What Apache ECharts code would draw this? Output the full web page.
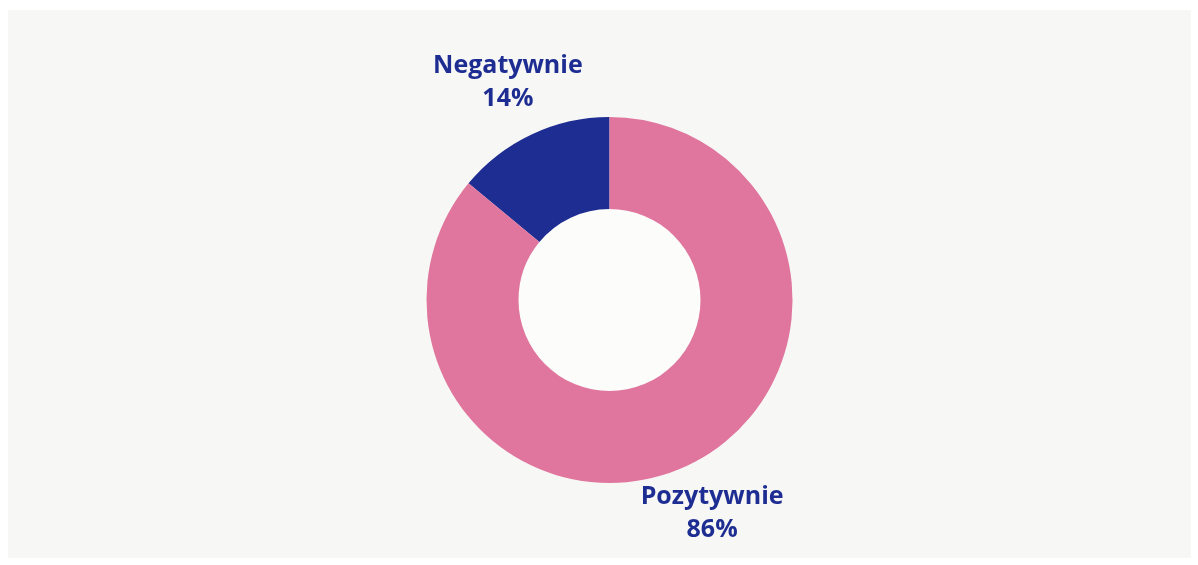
<!DOCTYPE html>
<html>
<head>
<meta charset="utf-8">
<script src="https://cdn.jsdelivr.net/npm/echarts@6/dist/echarts.min.js"></script>
<style>
  html, body { margin: 0; padding: 0; background: #ffffff; }
  #chart { position: absolute; left: 8px; top: 10px; width: 1183px; height: 548px; background: #f7f7f5; }
</style>
</head>
<body>
<div id="chart"></div>
<script>
// dane
var categories = ['Negatywnie', 'Pozytywnie'];
var values = [14, 86];
var colors = ['#1e2d92', '#e0759d'];
var labelOffsets = [[1, 0], [0, -5]];

var chart = echarts.init(document.getElementById('chart'), null, { renderer: 'canvas' });

var pieData = categories.map(function (name, i) {
  return { name: name, value: values[i], itemStyle: { color: colors[i] } };
});

// centrum wykresu w pikselach kontenera (strona: 609.5, 300)
var cx = 601.5, cy = 290, r0 = 91, r1 = 183;

var option = {
  backgroundColor: '#f7f7f5',
  animation: false,
  graphic: [{
    type: 'circle',
    silent: true,
    z: -1,
    shape: { cx: cx, cy: cy, r: r0 },
    style: { fill: '#fcfcfb' }
  }],
  series: [
    {
      type: 'pie',
      center: [cx, cy],
      radius: [r0, r1],
      startAngle: 90,
      clockwise: false,
      silent: true,
      label: { show: false },
      labelLine: { show: false },
      data: pieData
    },
    {
      // niewidoczny pierscien tylko na etykiety
      type: 'pie',
      center: [cx, cy],
      radius: [198, 278],
      startAngle: 90,
      clockwise: false,
      silent: true,
      itemStyle: { color: 'transparent' },
      label: {
        show: true,
        position: 'inside',
        formatter: function (p) { return p.name + '\n' + p.value + '%'; },
        color: '#1e2d92',
        fontFamily: 'Open Sans',
        fontWeight: 'bold',
        fontSize: 25,
        lineHeight: 33,
        align: 'center'
      },
      labelLine: { show: false },
      data: categories.map(function (name, i) {
        return { name: name, value: values[i], label: { offset: labelOffsets[i] } };
      })
    }
  ]
};

chart.setOption(option);
</script>
</body>
</html>
